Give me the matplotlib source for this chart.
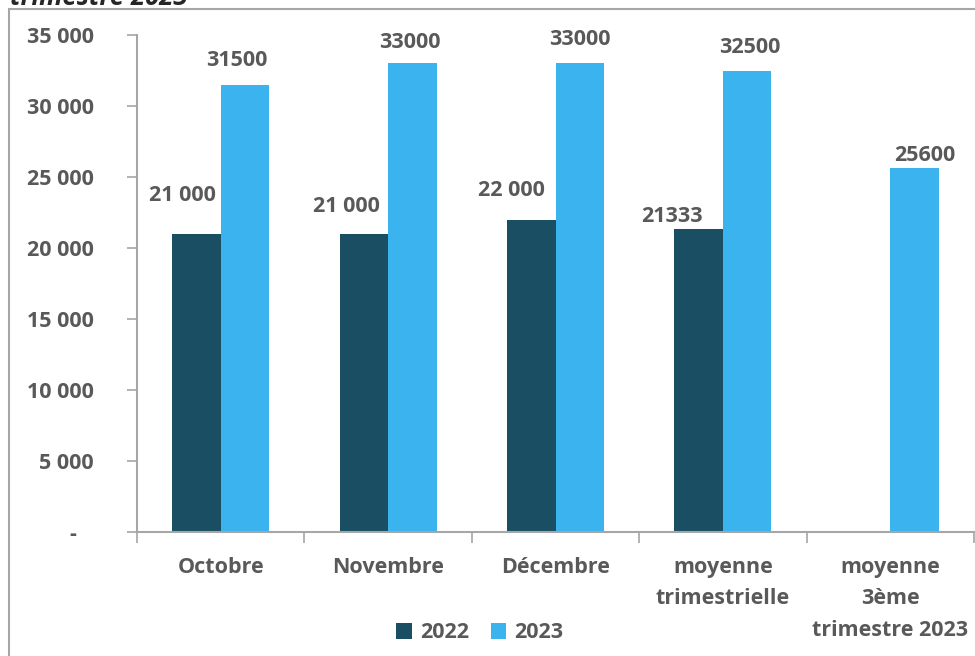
import numpy as np
import matplotlib.pyplot as plt
from matplotlib.patches import Rectangle

categories = ["Octobre", "Novembre", "Décembre", "moyenne\ntrimestrielle",
              "moyenne\n3ème\ntrimestre 2023"]
v2022 = [21000, 21000, 22000, 21333, np.nan]
v2023 = [31500, 33000, 33000, 32500, 25600]
lab2022 = ["21 000", "21 000", "22 000", "21333", ""]
lab2023 = ["31500", "33000", "33000", "32500", "25600"]
yticks = [0, 5000, 10000, 15000, 20000, 25000, 30000, 35000]
ylabels = ["-   ", "5 000", "10 000", "15 000", "20 000", "25 000", "30 000", "35 000"]

dark = "#1A4F63"
light = "#3BB3EF"
grey = "#595959"
axcol = "#A6A6A6"

plt.rcParams['font.family'] = ['Open Sans', 'DejaVu Sans']
plt.rcParams['font.weight'] = 'bold'
fs = 15.5

fig = plt.figure(figsize=(9.75, 6.56), dpi=100)
ax = fig.add_axes([137/975, 1-532/656, 837/975, (532-35)/656])

x = np.arange(len(categories))
w = 0.29
b1 = ax.bar(x - w/2, v2022, w, color=dark, label="2022")
b2 = ax.bar(x + w/2, v2023, w, color=light, label="2023")

# label offsets in pixels from the bar top centre (Excel auto placement)
off2022 = [(-14, 38), (-17, 27), (-20, 29), (-27, 13), (0, 0)]
off2023 = [(-8, 24), (-2, 21), (0, 24), (3, 23), (10, 13)]
for i in range(len(x)):
    if lab2022[i]:
        ax.annotate(lab2022[i], (x[i] - w/2, v2022[i]), xytext=off2022[i],
                    textcoords="offset pixels", ha="center", va="center",
                    fontsize=fs, color=grey, fontweight="bold")
    ax.annotate(lab2023[i], (x[i] + w/2, v2023[i]), xytext=off2023[i],
                textcoords="offset pixels", ha="center", va="center",
                fontsize=fs, color=grey, fontweight="bold")

ax.set_xlim(-0.5, 4.5)
ax.set_ylim(0, 35000)
ax.set_yticks(yticks)
ax.set_yticklabels(ylabels)
ax.set_xticks(x)
ax.set_xticklabels(categories, linespacing=1.65)
ax.set_xticks(np.arange(-0.5, 5.0, 1.0), minor=True)
ax.tick_params(axis="x", which="major", length=0, pad=18, labelsize=fs, labelcolor=grey)
ax.tick_params(axis="x", which="minor", length=8, width=1.2, color=axcol, direction="out")
ax.tick_params(axis="y", length=7, width=1.2, color=axcol, pad=24, labelsize=fs, labelcolor=grey)
for lab in ax.get_xticklabels() + ax.get_yticklabels():
    lab.set_fontweight("bold")

for s in ["top", "right"]:
    ax.spines[s].set_visible(False)
for s in ["left", "bottom"]:
    ax.spines[s].set_color(axcol)
    ax.spines[s].set_linewidth(1.5)

leg = fig.legend(handles=[b1, b2], loc="center", bbox_to_anchor=(480/975, 1-633/656),
                 ncol=2, frameon=False, fontsize=fs, handlelength=0.7, handleheight=0.7,
                 handletextpad=0.4, columnspacing=1.0)
for t in leg.get_texts():
    t.set_color(grey)
    t.set_fontweight("bold")

# chart area border, cropped at right and bottom
fig.patches.append(Rectangle((9/975, -0.1), 1.2, 1 - 9/656 + 0.1, transform=fig.transFigure,
                             fill=False, edgecolor="#A6A6A6", linewidth=1.5, clip_on=False))

fig.text(10/975, 1 - 5/656, "trimestre 2023", ha="left", va="baseline",
         fontsize=18.5, fontweight="bold", fontstyle="italic", color="#262626")

fig.savefig("out.png", dpi=100)
